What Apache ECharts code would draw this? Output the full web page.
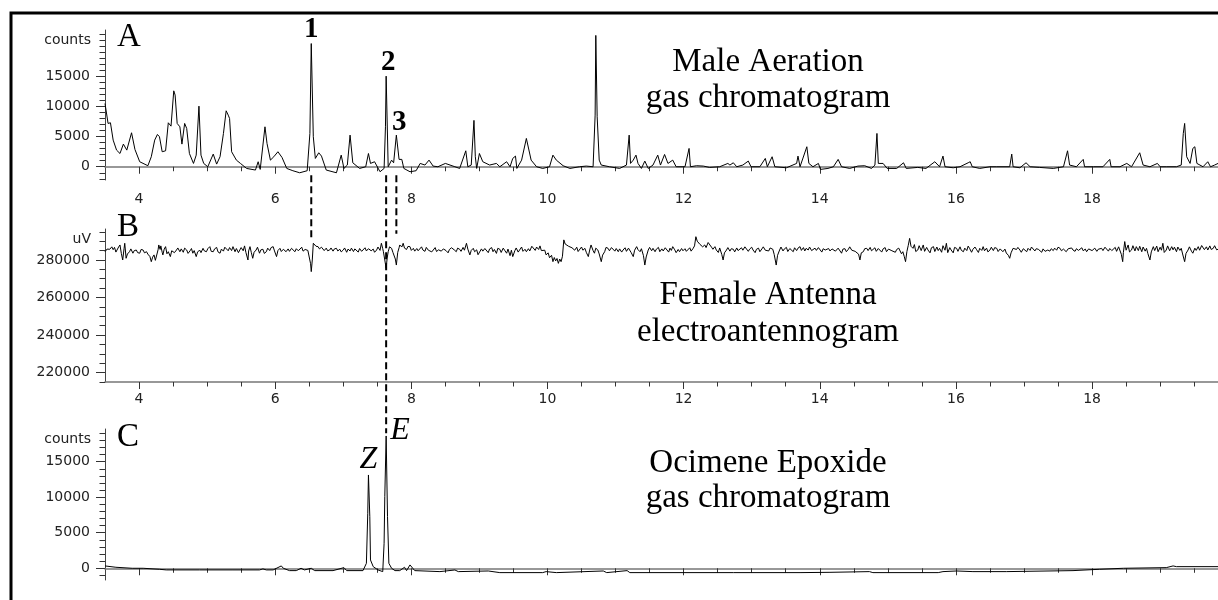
<!DOCTYPE html>
<html>
<head>
<meta charset="utf-8">
<script src="https://cdn.jsdelivr.net/npm/echarts@6/dist/echarts.min.js"></script>
<style>
  html, body { margin: 0; padding: 0; background: #fff; }
  #chart { width: 1218px; height: 600px; }
</style>
</head>
<body>
<div id="chart"></div>
<script>
// retention time (min) tick labels, shared by the three panels
const timeLabels = [4, 6, 8, 10, 12, 14, 16, 18];
const timeMinor = [4.5, 5, 5.5, 6.5, 7, 7.5, 8.5, 9, 9.5, 10.5, 11, 11.5, 12.5, 13, 13.5,
  14.5, 15, 15.5, 16.5, 17, 17.5, 18.5, 19, 19.5];

const countLabels = [0, 5000, 10000, 15000];
const countMinorA = [-2000, -1000, 1000, 2000, 3000, 4000, 6000, 7000, 8000, 9000, 11000, 12000,
  13000, 14000, 16000, 17000, 18000, 19000, 20000, 21000, 22000];
const countMinorC = [-1000, 1000, 2000, 3000, 4000, 6000, 7000, 8000, 9000, 11000, 12000,
  13000, 14000, 16000, 17000, 18000, 19000];
const uvLabels = [220000, 240000, 260000, 280000];
const uvMinor = [215000, 225000, 230000, 235000, 245000, 250000, 255000, 265000, 270000, 275000,
  285000, 290000, 295000];

// A: male aeration GC
const maleTime = [3.5, 3.545, 3.58, 3.62, 3.67, 3.72, 3.77, 3.82, 3.89, 3.94, 4.01, 4.13, 4.18, 4.23, 4.27,
  4.30, 4.34, 4.39, 4.43, 4.47, 4.51, 4.53, 4.56, 4.60, 4.63, 4.67, 4.70, 4.74, 4.80, 4.84, 4.88, 4.91,
  4.95, 5.01, 5.09, 5.14, 5.19, 5.24, 5.28, 5.31, 5.33, 5.36, 5.43, 5.49, 5.58, 5.71, 5.75, 5.78, 5.85,
  5.88, 5.93, 5.98, 6.04, 6.10, 6.17, 6.26, 6.36, 6.47, 6.51, 6.53, 6.56, 6.59, 6.64, 6.68, 6.75, 6.90,
  6.97, 7.01, 7.06, 7.10, 7.14, 7.24, 7.33, 7.37, 7.40, 7.46, 7.54, 7.60, 7.62, 7.63, 7.66, 7.71, 7.74,
  7.78, 7.82, 7.86, 7.89, 7.98, 8.07, 8.13, 8.20, 8.26, 8.32, 8.39, 8.50, 8.64, 8.71, 8.80, 8.83, 8.88,
  8.92, 8.94, 8.96, 9.00, 9.05, 9.15, 9.25, 9.30, 9.40, 9.45, 9.49, 9.53, 9.55, 9.62, 9.69, 9.71, 9.76,
  9.84, 9.93, 10.03, 10.08, 10.13, 10.23, 10.33, 10.47, 10.57, 10.67, 10.70, 10.71, 10.73, 10.76, 10.79,
  10.91, 11.06, 11.16, 11.20, 11.22, 11.26, 11.30, 11.33, 11.38, 11.43, 11.48, 11.55, 11.62, 11.66,
  11.72, 11.77, 11.84, 11.89, 12.02, 12.08, 12.10, 12.19, 12.29, 12.38, 12.53, 12.65, 12.68, 12.73,
  12.78, 12.87, 12.95, 12.99, 13.12, 13.20, 13.23, 13.30, 13.34, 13.51, 13.66, 13.68, 13.71, 13.81,
  13.84, 13.90, 13.98, 14.01, 14.12, 14.20, 14.27, 14.32, 14.44, 14.56, 14.66, 14.76, 14.81, 14.84,
  14.86, 14.93, 14.99, 15.13, 15.23, 15.27, 15.44, 15.56, 15.69, 15.76, 15.81, 15.84, 15.96, 16.06,
  16.18, 16.21, 16.24, 16.35, 16.50, 16.60, 16.79, 16.82, 16.84, 16.94, 17.03, 17.09, 17.23, 17.43,
  17.58, 17.64, 17.67, 17.77, 17.87, 17.89, 18.02, 18.16, 18.26, 18.28, 18.41, 18.51, 18.58, 18.70,
  18.75, 18.85, 18.96, 19.00, 19.09, 19.24, 19.31, 19.34, 19.36, 19.39, 19.44, 19.48, 19.51, 19.54,
  19.63, 19.70, 19.74, 19.80, 19.85];
const maleCounts = [10500, 7190, 7300, 4420, 2760, 2200, 3760, 2760, 5640, 2870, 830, 170, 1660, 4420, 5360,
  4980, 2490, 2650, 7300, 6740, 12600, 11900, 7190, 6630, 3760, 7190, 6360, 2200, 550, 1930, 10060, 1930,
  550, 0, 2100, 440, 1660, 5530, 9290, 8570, 8020, 2490, 1100, 550, -280, -550, 830, -440, 6630,
  3870, 1100, 1660, 2490, 1550, -280, -660, -1000, -660, 5530, 20450, 4980, 1380, 2320, 1770, -550, -1000,
  1930, -280, 280, 5250, 660, -280, 0, 2200, 550, 830, -830, -280, 6630, 15040, 0, 1100, 660,
  5250, 1220, 1220, -280, -830, -660, 550, 280, 1100, 110, 0, 550, 0, -280, 2650, 0, 280,
  7700, 1660, -280, 2200, 830, 280, 550, 0, 830, 0, 1380, 1770, -280, 1100, 4700, 4420, 1100,
  0, -280, 0, 1930, 1100, 170, -280, 0, 110, 0, 8570, 21800, 8300, 1100, 280,
  0, -280, 280, 5250, 550, 1100, 1930, 550, -280, 940, -280, 280, 1930, 280,
  2040, 550, 1100, 0, 0, 3040, 0, 170, 110, -110, 0, 550, 280, 660,
  0, 280, 940, 0, 0, 1380, 0, 1660, 0, -170, 550, 1770, 0, 3320,
  550, 0, 550, -440, -280, 0, 1220, 0, -280, 110, 170, -280, 280, 5530,
  550, 550, -280, -280, 660, -280, -110, -280, 830, 0, 1770, 0, -170, 0,
  660, 830, 0, -280, 0, 0, 0, 2100, 0, -170, 660, 0, -110, -280,
  0, 2650, 280, 0, 1220, 0, 0, 0, 1220, 0, 0, 550, 0, 2320,
  280, 0, 550, 0, 0, 0, 280, 5530, 7190, 1660, 550, 3040, 3320, 550,
  0, 830, 0, 280, 550];

// B: female antenna EAG (10 points per row)
const femaleTime = [
  3.50, 3.53, 3.55, 3.57, 3.60, 3.62, 3.64, 3.66, 3.68, 3.70,
  3.72, 3.74, 3.76, 3.78, 3.79, 3.81, 3.83, 3.86, 3.88, 3.91,
  3.93, 3.96, 3.98, 4.01, 4.03, 4.06, 4.08, 4.11, 4.13, 4.16,
  4.18, 4.20, 4.22, 4.24, 4.26, 4.28, 4.29, 4.31, 4.32, 4.34,
  4.35, 4.37, 4.39, 4.41, 4.43, 4.45, 4.46, 4.48, 4.50, 4.52,
  4.55, 4.57, 4.60, 4.62, 4.65, 4.67, 4.70, 4.72, 4.75, 4.77,
  4.79, 4.81, 4.84, 4.86, 4.89, 4.91, 4.94, 4.96, 4.99, 5.01,
  5.04, 5.06, 5.09, 5.11, 5.14, 5.16, 5.19, 5.21, 5.24, 5.26,
  5.28, 5.31, 5.33, 5.36, 5.38, 5.41, 5.43, 5.46, 5.48, 5.50,
  5.53, 5.55, 5.57, 5.60, 5.61, 5.63, 5.65, 5.67, 5.69, 5.72,
  5.74, 5.77, 5.79, 5.82, 5.84, 5.87, 5.89, 5.92, 5.94, 5.97,
  5.99, 6.02, 6.04, 6.07, 6.09, 6.12, 6.14, 6.16, 6.19, 6.21,
  6.24, 6.26, 6.29, 6.31, 6.34, 6.36, 6.39, 6.41, 6.44, 6.46,
  6.48, 6.50, 6.52, 6.53, 6.545, 6.56, 6.58, 6.60, 6.63, 6.65,
  6.68, 6.70, 6.72, 6.75, 6.77, 6.80, 6.82, 6.85, 6.87, 6.90,
  6.92, 6.95, 6.97, 7.00, 7.02, 7.05, 7.07, 7.10, 7.12, 7.15,
  7.17, 7.19, 7.22, 7.24, 7.27, 7.29, 7.32, 7.34, 7.37, 7.39,
  7.41, 7.44, 7.46, 7.49, 7.51, 7.54, 7.56, 7.58, 7.59, 7.61,
  7.63, 7.645, 7.66, 7.68, 7.71, 7.73, 7.75, 7.765, 7.78, 7.80,
  7.82, 7.83, 7.86, 7.88, 7.90, 7.93, 7.95, 7.98, 8.00, 8.03,
  8.05, 8.08, 8.10, 8.12, 8.15, 8.17, 8.20, 8.22, 8.25, 8.27,
  8.30, 8.32, 8.35, 8.37, 8.40, 8.42, 8.44, 8.47, 8.49, 8.51,
  8.54, 8.56, 8.59, 8.61, 8.63, 8.66, 8.68, 8.71, 8.73, 8.76,
  8.78, 8.81, 8.83, 8.86, 8.88, 8.91, 8.93, 8.96, 8.98, 9.00,
  9.03, 9.05, 9.08, 9.10, 9.13, 9.15, 9.18, 9.20, 9.22, 9.25,
  9.27, 9.30, 9.32, 9.35, 9.37, 9.40, 9.42, 9.45, 9.47, 9.49,
  9.52, 9.54, 9.57, 9.59, 9.62, 9.64, 9.67, 9.69, 9.72, 9.74,
  9.77, 9.79, 9.82, 9.84, 9.87, 9.89, 9.91, 9.93, 9.96, 9.98,
  10.01, 10.03, 10.06, 10.08, 10.10, 10.12, 10.14, 10.16, 10.18, 10.20,
  10.22, 10.24, 10.26, 10.28, 10.31, 10.33, 10.36, 10.38, 10.40, 10.43,
  10.45, 10.47, 10.50, 10.52, 10.55, 10.57, 10.60, 10.62, 10.64, 10.67,
  10.69, 10.71, 10.74, 10.76, 10.79, 10.81, 10.84, 10.86, 10.89, 10.91,
  10.94, 10.96, 10.99, 11.01, 11.04, 11.06, 11.09, 11.11, 11.14, 11.16,
  11.19, 11.21, 11.23, 11.26, 11.28, 11.31, 11.33, 11.36, 11.38, 11.41,
  11.43, 11.45, 11.48, 11.50, 11.53, 11.55, 11.58, 11.60, 11.63, 11.65,
  11.68, 11.70, 11.73, 11.75, 11.78, 11.80, 11.82, 11.84, 11.87, 11.89,
  11.92, 11.94, 11.97, 11.99, 12.02, 12.04, 12.06, 12.09, 12.11, 12.14,
  12.16, 12.18, 12.20, 12.21, 12.24, 12.26, 12.28, 12.31, 12.33, 12.36,
  12.38, 12.41, 12.43, 12.46, 12.48, 12.51, 12.53, 12.56, 12.58, 12.60,
  12.63, 12.65, 12.68, 12.70, 12.73, 12.75, 12.78, 12.80, 12.82, 12.85,
  12.87, 12.90, 12.92, 12.95, 12.97, 13.00, 13.02, 13.05, 13.07, 13.10,
  13.12, 13.15, 13.17, 13.20, 13.22, 13.25, 13.27, 13.29, 13.31, 13.33,
  13.36, 13.38, 13.41, 13.43, 13.46, 13.48, 13.51, 13.53, 13.56, 13.58,
  13.61, 13.63, 13.66, 13.68, 13.71, 13.73, 13.76, 13.78, 13.80, 13.83,
  13.85, 13.88, 13.90, 13.93, 13.95, 13.98, 14.00, 14.03, 14.05, 14.08,
  14.10, 14.13, 14.15, 14.18, 14.20, 14.23, 14.25, 14.27, 14.29, 14.32,
  14.34, 14.37, 14.39, 14.42, 14.44, 14.47, 14.49, 14.52, 14.54, 14.57,
  14.59, 14.61, 14.64, 14.66, 14.69, 14.71, 14.74, 14.76, 14.78, 14.81,
  14.83, 14.86, 14.88, 14.91, 14.93, 14.96, 14.98, 15.01, 15.03, 15.06,
  15.08, 15.11, 15.13, 15.16, 15.18, 15.20, 15.22, 15.24, 15.26, 15.28,
  15.30, 15.32, 15.34, 15.37, 15.39, 15.41, 15.44, 15.46, 15.49, 15.52,
  15.54, 15.57, 15.59, 15.62, 15.64, 15.67, 15.69, 15.72, 15.74, 15.76,
  15.79, 15.81, 15.84, 15.86, 15.88, 15.91, 15.93, 15.96, 15.98, 16.01,
  16.03, 16.06, 16.08, 16.11, 16.13, 16.16, 16.18, 16.20, 16.23, 16.25,
  16.28, 16.30, 16.33, 16.35, 16.38, 16.40, 16.42, 16.45, 16.47, 16.50,
  16.52, 16.55, 16.57, 16.60, 16.62, 16.65, 16.67, 16.69, 16.72, 16.74,
  16.77, 16.79, 16.81, 16.84, 16.86, 16.89, 16.91, 16.94, 16.96, 16.99,
  17.01, 17.04, 17.06, 17.09, 17.11, 17.13, 17.16, 17.18, 17.21, 17.23,
  17.26, 17.28, 17.31, 17.33, 17.35, 17.38, 17.40, 17.43, 17.45, 17.48,
  17.50, 17.53, 17.55, 17.58, 17.60, 17.62, 17.65, 17.67, 17.70, 17.72,
  17.75, 17.77, 17.80, 17.82, 17.85, 17.87, 17.90, 17.92, 17.95, 17.97,
  18.00, 18.02, 18.04, 18.07, 18.09, 18.11, 18.14, 18.16, 18.19, 18.21,
  18.24, 18.26, 18.29, 18.31, 18.34, 18.36, 18.39, 18.41, 18.43, 18.45,
  18.46, 18.48, 18.50, 18.53, 18.55, 18.58, 18.60, 18.63, 18.65, 18.68,
  18.70, 18.73, 18.75, 18.78, 18.80, 18.82, 18.85, 18.87, 18.90, 18.92,
  18.95, 18.97, 19.00, 19.02, 19.04, 19.06, 19.09, 19.11, 19.14, 19.17,
  19.19, 19.21, 19.24, 19.26, 19.29, 19.31, 19.33, 19.36, 19.38, 19.41,
  19.43, 19.46, 19.48, 19.51, 19.53, 19.56, 19.58, 19.61, 19.63, 19.65,
  19.68, 19.70, 19.73, 19.75, 19.78, 19.80, 19.83, 19.85];
const femaleUV = [
  284400, 285800, 284900, 285700, 287000, 285500, 286700, 284200, 285000, 286900,
  288000, 283500, 280000, 286000, 288900, 280900, 283200, 284400, 285900, 283600,
  285000, 285300, 283900, 283600, 285600, 285300, 283800, 284400, 283100, 281800,
  279100, 281500, 282700, 279800, 280000, 285500, 288000, 285600, 287500, 284100,
  282700, 285800, 287100, 283300, 284400, 283600, 281800, 284900, 285300, 283900,
  285300, 286400, 284400, 285900, 284100, 286300, 285300, 283500, 284900, 286100,
  283600, 285000, 281800, 284200, 285300, 283900, 286200, 284800, 284400, 286000,
  287100, 284600, 284400, 285900, 286700, 284300, 283600, 285800, 284700, 286800,
  286200, 284900, 286600, 285000, 287100, 284400, 286100, 283900, 285300, 286600,
  284900, 287500, 284000, 280000, 284800, 287100, 283900, 280900, 284100, 285300,
  286800, 283600, 285400, 285700, 283500, 284400, 286300, 285000, 286600, 287100,
  284800, 281800, 285000, 286200, 284500, 285700, 286500, 284400, 285900, 284600,
  286200, 285700, 284400, 286000, 284900, 285300, 286800, 284700, 285600, 286200,
  285100, 284400, 278000, 273800, 280000, 288900, 288900, 287300, 287100, 285900,
  286800, 286200, 285000, 286300, 284900, 285300, 286400, 284700, 285900, 286200,
  284800, 285700, 284300, 285300, 286400, 284100, 285800, 284800, 286300, 284500,
  285900, 285700, 284200, 286100, 284600, 285000, 286500, 284800, 286000, 286700,
  284900, 285800, 284100, 285300, 286900, 285100, 288900, 286000, 284400, 280000,
  275600, 281000, 284400, 287000, 286200, 284000, 283000, 280500, 277300, 284000,
  286500, 288000, 286900, 288900, 286300, 285600, 287200, 287100, 285100, 286200,
  284700, 286100, 284900, 285700, 287000, 285300, 284600, 286700, 285200, 286100,
  284300, 285300, 286600, 284500, 285400, 286200, 284700, 285900, 286800, 285000,
  283800, 285600, 286500, 287100, 285400, 284400, 286300, 285700, 284600, 286700,
  285200, 288900, 285800, 282700, 285100, 286200, 284400, 285400, 282800, 283600,
  285900, 284700, 286100, 285300, 283900, 285900, 286600, 284400, 285600, 283500,
  286200, 285700, 284000, 286300, 285200, 283600, 285800, 282300, 285200, 281800,
  284900, 286400, 284200, 285300, 286900, 284600, 285700, 284400, 286000, 284800,
  287300, 286700, 285100, 286900, 285600, 287500, 285000, 284000, 285200, 282700,
  283800, 281200, 282500, 279100, 281300, 279500, 280800, 278200, 280500, 279100,
  282000, 290700, 288500, 288900, 287300, 288000, 286500, 287100, 285200, 286800,
  284500, 284400, 286900, 285200, 286200, 284100, 281800, 285300, 288000, 285000,
  283600, 286300, 285300, 283200, 279100, 282600, 284400, 286700, 286200, 284900,
  286600, 286200, 284700, 286100, 284400, 285900, 284200, 285300, 286500, 284600,
  286300, 285700, 283900, 281800, 285200, 287100, 285500, 284400, 286000, 282300,
  277300, 281600, 285300, 286700, 284900, 286200, 284400, 285800, 286700, 284400,
  285900, 284800, 286500, 285700, 284200, 286300, 285100, 287100, 285400, 283900,
  285600, 284400, 286100, 284900, 286000, 284600, 285300, 286500, 284700, 286200,
  287500, 292400, 290000, 290700, 288300, 289200, 287000, 288000, 286600, 289300,
  288900, 286800, 285700, 287100, 285300, 284000, 286400, 283000, 280000, 283800,
  285300, 286600, 284700, 286000, 285700, 284300, 286400, 285000, 284400, 286500,
  285200, 287000, 286200, 284600, 285800, 286800, 285300, 283900, 285700, 286300,
  284400, 285900, 287000, 285200, 286200, 284800, 286400, 285700, 285700, 283000,
  277300, 282500, 285300, 286900, 284800, 285900, 286700, 284500, 286100, 285200,
  284400, 286500, 285000, 286300, 287100, 285100, 286600, 284800, 286200, 285300,
  286900, 285000, 284400, 286300, 285100, 286600, 285700, 284200, 286000, 285300,
  284400, 286100, 284800, 285900, 286200, 284700, 285600, 286300, 285300, 283600,
  285800, 286000, 284400, 285700, 287000, 285200, 286200, 284600, 285400, 283100,
  280000, 283800, 284400, 286000, 286200, 285000, 286700, 284900, 285300, 286500,
  284600, 286100, 285300, 284200, 285900, 286600, 284400, 285800, 286700, 284900,
  285700, 284100, 285600, 286300, 285300, 283300, 284400, 282000, 279100, 284500,
  287800, 291500, 287300, 286200, 288200, 284500, 285300, 287600, 285000, 288000,
  284600, 286700, 285300, 283800, 286500, 287100, 284500, 286900, 285000, 286200,
  284100, 287600, 285200, 288900, 283900, 286600, 285300, 283800, 286700, 286200,
  284600, 287000, 285100, 284400, 286300, 285000, 287400, 286200, 284100, 285700,
  286900, 285700, 284000, 286200, 285100, 287100, 284900, 286300, 284300, 285300,
  286800, 285000, 286600, 286200, 284500, 285900, 286400, 284400, 285800, 283700,
  282500, 280900, 283800, 286200, 287100, 285600, 286700, 285300, 284100, 286000,
  285400, 284400, 286200, 285100, 286900, 286200, 284800, 286000, 285700, 285300,
  284100, 285900, 284600, 283600, 285300, 284700, 286000, 285000, 286300, 285200,
  286800, 286200, 284900, 285800, 285100, 284400, 286000, 285200, 286400, 285300,
  284600, 286000, 285100, 285700, 286500, 284900, 285800, 284400, 285900, 286400,
  285000, 285300, 286300, 284600, 285700, 284800, 286200, 285000, 286800, 286200,
  284700, 286100, 285000, 285300, 286700, 284600, 287000, 286200, 283000, 279100,
  284000, 289800, 285200, 288000, 284300, 285300, 287600, 284800, 287100, 285000,
  287300, 284400, 286900, 284700, 286200, 283400, 280000, 284300, 287100, 285000,
  287400, 284400, 286800, 285200, 288900, 284000, 285300, 287500, 284900, 287100,
  285400, 286800, 284400, 286900, 285100, 286200, 283200, 279100, 283500, 285300,
  287000, 284700, 283600, 286300, 285100, 287100, 285200, 287700, 288000, 285500,
  287000, 285300, 287500, 285600, 286200, 287600, 285400, 285700];

// C: ocimene epoxide standard GC
const epoxideTime = [3.5, 3.66, 3.90, 4.06, 4.30, 4.40, 4.89, 5.38, 5.77, 5.82, 5.87, 5.97, 6.09, 6.12, 6.21,
  6.31, 6.38, 6.43, 6.53, 6.58, 6.85, 7.01, 7.05, 7.29, 7.34, 7.36, 7.37, 7.39, 7.40, 7.44, 7.51, 7.58,
  7.60, 7.61, 7.63, 7.65, 7.67, 7.71, 7.76, 7.83, 7.90, 7.93, 7.98, 8.00, 8.05, 8.42, 8.64, 8.69, 9.13,
  9.30, 9.93, 9.98, 10.13, 10.82, 10.87, 11.17, 11.21, 12.73, 13.71, 14.15, 14.73, 14.78, 15.74, 15.81,
  16.01, 16.25, 16.74, 17.72, 18.11, 18.46, 19.09, 19.19, 19.24, 19.85];
const epoxideCounts = [330, 140, 0, 0, -140, -230, -230, -230, -230, -90, -230, -230, 330, 0, -330,
  -330, 0, -230, 0, -330, -330, 90, -330, -330, 700, 7740, 13130, 7270, 1170, 230, -230, -470,
  3520, 10080, 18620, 7270, 700, 0, -330, -330, 140, -330, 470, 240, -330, -470, -240, -470, -380,
  -610, -610, -470, -610, -380, -610, -330, -610, -610, -610, -570, -470, -610, -610, -470,
  -380, -470, -470, -330, -140, 0, 90, 330, 230, 230];

// peak markers: [time, value, text]
const maleMarks = [[6.53, 20450, '1'], [7.63, 15040, '2'], [7.78, 5250, '3']];
const epoxideMarks = [[7.37, 13130, 'Z'], [7.63, 18620, 'E']];
// dashed guides: [time, end panel, end value]
const guideLines = [[6.53, 1, 291000], [7.63, 2, 19000], [7.78, 1, 294000]];

const pairs = (xs, ys) => xs.map((x, i) => [x, ys[i]]);

const serif = '"Liberation Serif", "Times New Roman", serif';
const sans = '"DejaVu Sans", sans-serif';

const grids = [
  { left: 105, top: 30, width: 1113, height: 150 },
  { left: 105, top: 229, width: 1113, height: 153 },
  { left: 105, top: 429, width: 1113, height: 151 }
];
const yRanges = [[-2200, 22700], [215000, 296500], [-1650, 19600]];
const yLabelSets = [countLabels, uvLabels, countLabels];
const yMinorSets = [countMinorA, uvMinor, countMinorC];
const yNames = ['counts', 'uV', 'counts'];
const xLabelMargin = [12, 10, 12];

const myChart = echarts.init(document.getElementById('chart'));

const xAxes = [];
const yAxes = [];
// main axes (labels + long ticks)
grids.forEach((g, i) => {
  xAxes.push({
    type: 'value', gridIndex: i, position: 'bottom', min: 3.5, max: 19.85,
    axisLine: { show: true, lineStyle: { color: '#777', width: 1.5 } },
    axisTick: { show: true, length: 7, customValues: timeLabels, lineStyle: { color: '#333' } },
    axisLabel: {
      show: i < 2, customValues: timeLabels, margin: xLabelMargin[i],
      color: '#222', fontFamily: sans, fontSize: 14
    },
    splitLine: { show: false }
  });
  yAxes.push({
    type: 'value', gridIndex: i, position: 'left', min: yRanges[i][0], max: yRanges[i][1],
    name: yNames[i], nameLocation: 'end', nameGap: -10.5,
    nameTextStyle: {
      color: '#222', fontFamily: sans, fontSize: 14, align: 'right',
      verticalAlign: 'middle', padding: [0, 14, 0, 0]
    },
    axisLine: { show: true, lineStyle: { color: '#444', width: 1 } },
    axisTick: { show: true, length: 9, customValues: yLabelSets[i], lineStyle: { color: '#333' } },
    axisLabel: {
      customValues: yLabelSets[i], margin: 15, color: '#222', fontFamily: sans, fontSize: 14,
      formatter: (v) => String(v)
    },
    splitLine: { show: false }
  });
});
// minor tick axes, laid over the main ones
grids.forEach((g, i) => {
  xAxes.push({
    type: 'value', gridIndex: i, position: 'bottom', offset: 0, min: 3.5, max: 19.85,
    axisLine: { show: false },
    axisTick: { show: true, length: 4.5, customValues: timeMinor, lineStyle: { color: '#333' } },
    axisLabel: { show: false },
    splitLine: { show: false }
  });
  yAxes.push({
    type: 'value', gridIndex: i, position: 'left', offset: 0, min: yRanges[i][0], max: yRanges[i][1],
    axisLine: { show: false },
    axisTick: { show: true, length: 5.5, customValues: yMinorSets[i], lineStyle: { color: '#333' } },
    axisLabel: { show: false },
    splitLine: { show: false }
  });
});

const traceStyle = { color: '#000', width: 1 };

myChart.setOption({
  animation: false,
  backgroundColor: '#fff',
  grid: grids,
  xAxis: xAxes,
  yAxis: yAxes,
  series: [
    { name: 'Male Aeration', type: 'line', xAxisIndex: 0, yAxisIndex: 0, showSymbol: false,
      lineStyle: traceStyle, data: pairs(maleTime, maleCounts) },
    { name: 'Female Antenna', type: 'line', xAxisIndex: 1, yAxisIndex: 1, showSymbol: false,
      lineStyle: traceStyle, data: pairs(femaleTime, femaleUV) },
    { name: 'Ocimene Epoxide', type: 'line', xAxisIndex: 2, yAxisIndex: 2, showSymbol: false,
      lineStyle: traceStyle, data: pairs(epoxideTime, epoxideCounts) }
  ]
});

// overlays placed through the chart's own scales
const toPx = (panel, t, v) => myChart.convertToPixel({ seriesIndex: panel }, [t, v]);

const graphics = [
  { type: 'rect', shape: { x: 11, y: 13, width: 1400, height: 800 },
    style: { fill: 'none', stroke: '#000', lineWidth: 3 }, silent: true }
];

const panelText = (text, x, y, font, align) => ({
  type: 'text', x: x, y: y, silent: true,
  style: { text: text, font: font, fill: '#000', textAlign: align || 'left', textVerticalAlign: 'middle' }
});
const big = '33px ' + serif;

graphics.push(panelText('A', 117, 37, big));
graphics.push(panelText('B', 117, 227, big));
graphics.push(panelText('C', 117, 437, big));
graphics.push(panelText('Male Aeration', 768, 62, big, 'center'));
graphics.push(panelText('gas chromatogram', 768, 98.5, big, 'center'));
graphics.push(panelText('Female Antenna', 768, 295, big, 'center'));
graphics.push(panelText('electroantennogram', 768, 332, big, 'center'));
graphics.push(panelText('Ocimene Epoxide', 768, 463.5, big, 'center'));
graphics.push(panelText('gas chromatogram', 768, 498.5, big, 'center'));

const markOffsets = { '1': [0, -14.5], '2': [2, -13.5], '3': [3, -13], 'Z': [0, -15], 'E': [14, -5] };
maleMarks.forEach(([t, v, s]) => {
  const p = toPx(0, t, v);
  graphics.push(panelText(s, p[0] + markOffsets[s][0], p[1] + markOffsets[s][1], 'bold 29px ' + serif, 'center'));
});
epoxideMarks.forEach(([t, v, s]) => {
  const p = toPx(2, t, v);
  graphics.push(panelText(s, p[0] + markOffsets[s][0], p[1] + markOffsets[s][1], 'italic 32px ' + serif, 'center'));
});

guideLines.forEach(([t, panel, v]) => {
  const a = toPx(0, t, -1400);
  const b = toPx(panel, t, v);
  graphics.push({
    type: 'line', silent: true,
    shape: { x1: a[0], y1: a[1], x2: b[0], y2: b[1] },
    style: { stroke: '#000', lineWidth: 2, lineDash: [7, 4] }
  });
});

myChart.setOption({ graphic: graphics });
</script>
</body>
</html>
